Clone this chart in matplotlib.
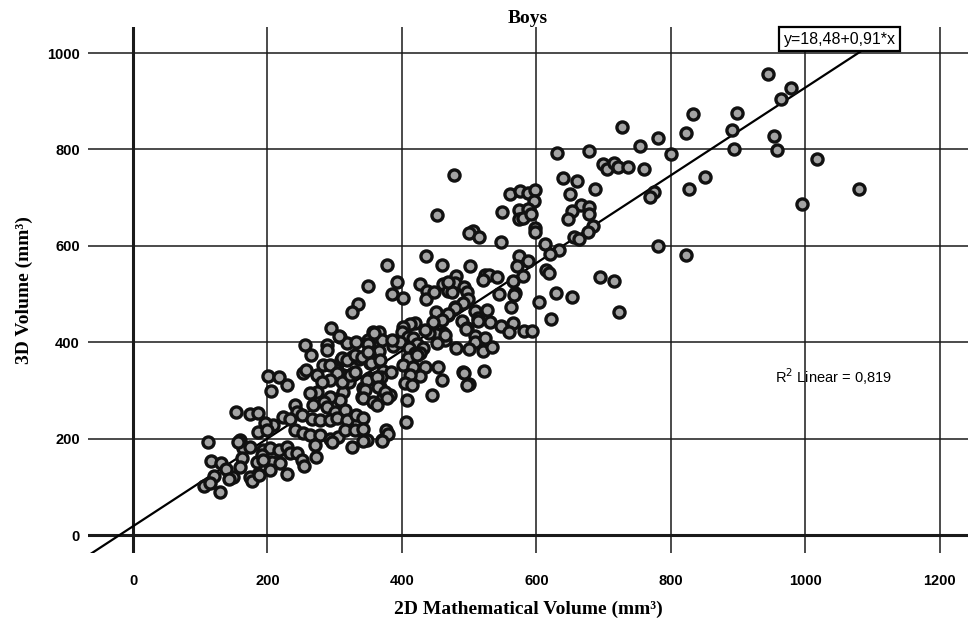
import numpy as np
import matplotlib
matplotlib.use("Agg")
import matplotlib.pyplot as plt

# 2D mathematical volume (x) and 3D volume (y), mm^3
x2d = [
    944, 978, 964, 953, 958, 1017, 1080, 995,
    727, 781, 754, 800, 833, 822, 898, 891, 894,
    851, 827, 775, 769, 781, 822, 715, 694,
    699, 705, 715, 722, 736, 760,
    630, 678, 639, 660, 687, 650, 666, 678, 653, 647, 678, 684, 677, 656, 663,
    613, 633, 620, 614, 619, 629, 653, 723, 622,
    477, 561, 576, 587, 598, 596, 549, 574, 587, 574, 580, 592, 598, 598,
    506, 500, 514, 547, 574, 587, 571, 580, 565, 501, 459, 480,
    461, 479, 492, 497, 468, 523, 529, 541, 520, 568, 567, 544, 604, 562,
    526, 509, 513, 531, 489, 497, 547, 565, 559, 581, 594, 461, 464, 509,
    509, 480, 500, 520, 534, 468, 479, 452,
    378, 436, 349, 393, 385, 401, 335, 326, 427, 437, 436, 448, 474, 468,
    498, 491, 479, 451, 468, 459, 446, 513, 495, 523,
    451, 464, 452, 440, 434, 419, 412, 401, 400, 409, 416, 422, 431, 427,
    387, 397, 410, 419, 409, 422, 401, 416, 434, 454, 459, 445, 491, 500,
    522, 427, 412, 404, 415, 366, 357, 349, 351, 370, 385, 366, 351, 336,
    326, 309, 308, 318, 332, 294, 352, 372, 384, 369, 351, 327, 312, 303,
    321, 367, 342, 382, 372, 312, 341, 407,
    256, 265, 288, 288, 306, 349, 358, 311, 318, 330, 341, 349, 354, 367,
    201, 217, 229, 205, 153, 174, 186, 253, 257, 274, 283, 293, 303, 311,
    293, 281, 274, 263, 323, 330, 348, 345, 342, 363, 364, 375, 378, 357,
    363, 308, 293, 284, 268, 288, 300, 315, 241, 244, 251, 266, 278, 293,
    303, 318, 332, 342, 223, 233, 208, 196, 186, 199, 241, 253, 263, 278,
    293, 305, 315, 330, 342, 348, 326, 370, 271, 272, 159, 164, 174, 193,
    203, 217, 229, 233, 244, 251, 254, 162, 184, 207, 219, 229, 186, 204,
    174, 159, 149,
    112, 156, 116, 131, 138, 121, 143, 106, 114, 129, 177, 187, 192, 193,
    492, 497, 406, 376, 379, 370, 342, 296,
]
y3d = [
    956, 927, 905, 828, 799, 780, 718, 687,
    846, 824, 807, 790, 873, 834, 876, 840, 801,
    743, 718, 712, 701, 600, 581, 527, 535,
    770, 759, 772, 763, 763, 759,
    793, 797, 741, 734, 718, 707, 685, 680, 672, 656, 666, 641, 629, 618, 614,
    604, 591, 583, 550, 544, 502, 494, 463, 448,
    747, 708, 714, 710, 716, 693, 670, 674, 676, 656, 658, 666, 637, 629,
    631, 627, 618, 608, 579, 569, 558, 537, 527, 558, 560, 537,
    521, 523, 515, 504, 506, 539, 539, 535, 529, 502, 498, 500, 483, 473,
    467, 465, 450, 442, 444, 429, 434, 440, 421, 423, 423, 419, 405, 413,
    400, 388, 386, 382, 390, 456, 473, 664,
    560, 579, 517, 525, 500, 492, 479, 463, 521, 506, 490, 504, 504, 525,
    490, 481, 471, 463, 458, 446, 442, 444, 427, 409,
    417, 415, 398, 419, 425, 440, 438, 432, 421, 411, 409, 396, 388, 378,
    392, 400, 388, 378, 367, 373, 353, 349, 349, 349, 322, 290, 338, 313,
    340, 330, 332, 315, 311, 421, 421, 405, 394, 405, 405, 382, 376, 365,
    369, 363, 411, 398, 400, 429, 357, 340, 338, 328, 326, 336, 332, 342,
    317, 307, 305, 290, 286, 297, 286, 280,
    394, 373, 394, 384, 413, 396, 419, 367, 363, 373, 369, 380, 357, 363,
    330, 328, 311, 299, 255, 251, 253, 336, 342, 332, 353, 353, 336, 317,
    322, 317, 297, 295, 332, 338, 322, 301, 284, 328, 307, 297, 284, 276,
    270, 280, 286, 276, 270, 266, 255, 259, 270, 255, 249, 241, 239, 239,
    243, 239, 249, 243, 245, 241, 228, 232, 214, 218, 218, 212, 207, 207,
    199, 203, 218, 218, 220, 197, 183, 197, 187, 162, 197, 180, 183, 176,
    180, 176, 183, 170, 170, 156, 143, 160, 151, 151, 149, 127, 127, 135,
    120, 141, 120,
    193, 193, 154, 149, 137, 122, 116, 102, 108, 89, 112, 124, 166, 156,
    336, 311, 234, 218, 210, 195, 195, 193,
]

intercept, slope = 18.48, 0.91
r2 = 0.819
x_ticks = [0, 200, 400, 600, 800, 1000, 1200]
y_ticks = [0, 200, 400, 600, 800, 1000]
x_lim = (-67, 1242)
y_lim = (-37, 1054)

fig = plt.figure(figsize=(9.71, 6.25), dpi=100)
ax = fig.add_axes([0.0906, 0.1152, 0.9064, 0.8416])
ax.set_xlim(*x_lim)
ax.set_ylim(*y_lim)

for s in ax.spines.values():
    s.set_visible(False)

# grid lines at every tick, zero lines heavier
for t in x_ticks:
    ax.axvline(t, color="#1a1a1a", lw=2.2 if t == 0 else 1.1, zorder=1)
for t in y_ticks:
    ax.axhline(t, color="#1a1a1a", lw=2.2 if t == 0 else 1.1, zorder=1)

ax.set_xticks(x_ticks)
ax.set_yticks(y_ticks)
ax.tick_params(length=0, labelsize=10.5)
ax.tick_params(axis="x", pad=15)
ax.tick_params(axis="y", pad=6)
for lab in ax.get_xticklabels() + ax.get_yticklabels():
    lab.set_fontweight("bold")
    lab.set_family("Liberation Sans")

# fit line over the whole x range
xs = np.array(x_lim)
ax.plot(xs, intercept + slope * xs, color="black", lw=1.6, zorder=3)

ax.scatter(x2d, y3d, s=64, facecolor="#a3a3a3", edgecolor="#111111",
           linewidths=2.4, zorder=4)

ax.text(1051, 1029, "y=18,48+0,91*x", ha="center", va="center",
        fontsize=11.5, family="Liberation Sans", zorder=6,
        bbox=dict(boxstyle="square,pad=0.3", facecolor="white",
                  edgecolor="black", lw=1.6))
ax.text(955, 328, "R$^2$ Linear = 0,819", ha="left", va="center",
        fontsize=10.5, family="Liberation Sans", zorder=6)

ax.set_title("Boys", fontsize=14, fontweight="bold",
             family="Liberation Serif", pad=3)
ax.set_xlabel("2D Mathematical Volume (mm³)", fontsize=14, fontweight="bold",
              family="Liberation Serif", labelpad=9)
ax.set_ylabel("3D Volume (mm³)", fontsize=14, fontweight="bold",
              family="Liberation Serif", labelpad=10)

plt.savefig("out.png", dpi=100)
